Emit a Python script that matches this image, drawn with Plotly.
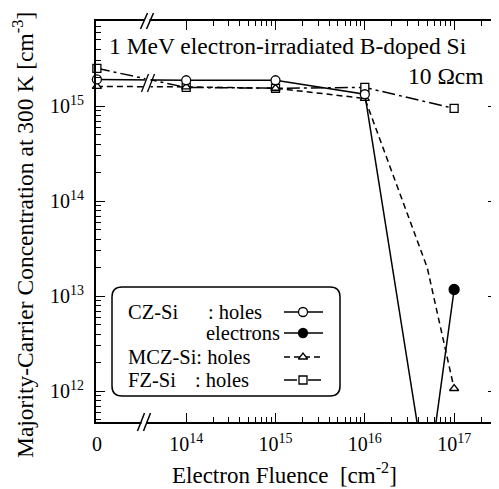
import plotly.graph_objects as go

# ---------------- data ----------------
ZERO_POS = 1e13  # display position used for fluence "0" (left of the axis break)

cz_fluence = [0, 1e14, 1e15, 1e16, 5e16]
cz_holes = [1.92e15, 1.88e15, 1.88e15, 1.34e15, 1.0e11]

cz_e_fluence = [5e16, 1e17]
cz_electrons = [1.0e11, 1.18e13]

mcz_fluence = [0, 1e14, 1e15, 1e16, 5e16, 1e17]
mcz_holes = [1.62e15, 1.60e15, 1.55e15, 1.21e15, 2.0e13, 1.07e12]
mcz_marked = [True, True, True, True, False, True]

fz_fluence = [0, 1e14, 1e15, 1e16, 1e17]
fz_holes = [2.51e15, 1.58e15, 1.55e15, 1.58e15, 9.5e14]

x_tick_vals = [0, 1e14, 1e15, 1e16, 1e17]
x_tick_text = ["0", "10<sup>14</sup>", "10<sup>15</sup>", "10<sup>16</sup>", "10<sup>17</sup>"]
y_tick_vals = [1e12, 1e13, 1e14, 1e15]
y_tick_text = ["10<sup>12</sup>", "10<sup>13</sup>", "10<sup>14</sup>", "10<sup>15</sup>"]

legend_texts = ["CZ-Si", "", "MCZ-Si: holes", "FZ-Si"]
legend_kinds = [": holes", "electrons", "", ": holes"]

X_RANGE = [12.99, 17.48]
Y_RANGE = [11.677, 15.898]

FONT = "Liberation Serif, Times New Roman, serif"

# ---------------- layout geometry ----------------
# The page body has an 8px default margin, so the figure is drawn 8px
# smaller and its margins reduced by 8px to land where the reference is.
OFF = 8
W, H = 499 - OFF, 489 - OFF
REF_L, REF_T, PW, PH = 96, 21, 401, 401
L, T = REF_L - OFF, REF_T - OFF
R = W - L - PW
B = H - T - PH
REF_BOTTOM = REF_T + PH


def px(X):
    return (X - REF_L) / PW


def py(Y):
    return (REF_BOTTOM - Y) / PH


def xpos(f):
    return ZERO_POS if f == 0 else f


ymin, ymax = 10 ** Y_RANGE[0], 10 ** Y_RANGE[1]

fig = go.Figure()


def add_series(fl, vals, dash, symbol, size, fill, marked=None):
    xs = [xpos(f) for f in fl]
    fig.add_trace(go.Scatter(x=xs, y=vals, mode="lines",
                             line=dict(color="black", width=1.5, dash=dash),
                             showlegend=False, hoverinfo="skip"))
    if marked is None:
        marked = [True] * len(fl)
    keep = [m and ymin <= v <= ymax for v, m in zip(vals, marked)]
    mx = [x for x, k in zip(xs, keep) if k]
    my = [v for v, k in zip(vals, keep) if k]
    fig.add_trace(go.Scatter(x=mx, y=my, mode="markers", cliponaxis=False,
                             marker=dict(symbol=symbol, size=size,
                                         color="black" if fill else "white",
                                         line=dict(color="black", width=1.3)),
                             showlegend=False))


DASH_MCZ = "6px,4px"
DASH_FZ = "13px,4px,3px,4px"

add_series(fz_fluence, fz_holes, DASH_FZ, "square", 8, False)
add_series(mcz_fluence, mcz_holes, DASH_MCZ, "triangle-up", 8, False, mcz_marked)
add_series(cz_fluence, cz_holes, "solid", "circle", 9, False)
add_series(cz_e_fluence, cz_electrons, "solid", "circle", 10, True)

# ---------------- legend drawn inside the plot ----------------
row_y = [312, 333, 357, 380]
legend_styles = [("solid", "circle", False), ("solid", "circle", True),
                 (DASH_MCZ, "triangle-up", False), (DASH_FZ, "square", False)]
kind_x = [206, 204, 0, 193]
for i in range(len(row_y)):
    yy = py(row_y[i])
    dash, sym, fill = legend_styles[i]
    fig.add_trace(go.Scatter(x=[px(284), px(323)], y=[yy, yy], mode="lines",
                             xaxis="x2", yaxis="y2",
                             line=dict(color="black", width=1.5, dash=dash),
                             showlegend=False, hoverinfo="skip"))
    fig.add_trace(go.Scatter(x=[px(303)], y=[yy], mode="markers",
                             xaxis="x2", yaxis="y2",
                             marker=dict(symbol=sym, size=9 if sym == "circle" else 8,
                                         color="black" if fill else "white",
                                         line=dict(color="black", width=1.3)),
                             showlegend=False, hoverinfo="skip"))

LEG_SIZE = 20.5
annotations = []
for i, (name, kind) in enumerate(zip(legend_texts, legend_kinds)):
    yy = py(row_y[i])
    if name:
        annotations.append(dict(x=px(126), y=yy, xref="paper", yref="paper",
                                text=name, showarrow=False, xanchor="left",
                                yanchor="middle", font=dict(size=LEG_SIZE)))
    if kind:
        annotations.append(dict(x=px(kind_x[i]), y=yy, xref="paper", yref="paper",
                                text=kind, showarrow=False, xanchor="left",
                                yanchor="middle", font=dict(size=LEG_SIZE)))

BIG = 23.5
annotations += [
    dict(x=px(107), y=py(46), xref="paper", yref="paper",
         text="1 MeV electron-irradiated B-doped Si", showarrow=False,
         xanchor="left", yanchor="middle", font=dict(size=BIG)),
    dict(x=px(486), y=py(76), xref="paper", yref="paper",
         text="10 \u03a9cm", showarrow=False,
         xanchor="right", yanchor="middle", font=dict(size=BIG)),
    dict(x=px(284), y=py(473), xref="paper", yref="paper",
         text="Electron Fluence  [cm<sup>-2</sup>]", showarrow=False,
         xanchor="center", yanchor="middle", font=dict(size=23)),
    dict(x=px(23), y=py(235), xref="paper", yref="paper",
         text="Majority-Carrier Concentration at 300 K [cm<sup>-3</sup>]",
         showarrow=False, textangle=-90,
         xanchor="center", yanchor="middle", font=dict(size=BIG)),
]

# ---------------- shapes: legend box & axis breaks ----------------
shapes = []
x0, x1, y0, y1 = px(112), px(340), py(396), py(287)
r = 10 / PW
path = (f"M {x0 + r},{y0} L {x1 - r},{y0} Q {x1},{y0} {x1},{y0 + r} "
        f"L {x1},{y1 - r} Q {x1},{y1} {x1 - r},{y1} L {x0 + r},{y1} "
        f"Q {x0},{y1} {x0},{y1 - r} L {x0},{y0 + r} Q {x0},{y0} {x0 + r},{y0} Z")
shapes.append(dict(type="path", path=path, xref="paper", yref="paper",
                   line=dict(color="black", width=1.5), fillcolor="rgba(0,0,0,0)"))


def add_break(xc, yc, half_h, gap_h, lw):
    shapes.append(dict(type="rect", xref="paper", yref="paper",
                       x0=px(xc - 2.5), x1=px(xc + 2.5),
                       y0=py(yc + gap_h), y1=py(yc - gap_h),
                       line=dict(width=0), fillcolor="white", layer="above"))
    for dx in (-3, 3):
        shapes.append(dict(type="line", xref="paper", yref="paper",
                           x0=px(xc + dx - 3.5), y0=py(yc + half_h),
                           x1=px(xc + dx + 3.5), y1=py(yc - half_h),
                           line=dict(color="black", width=lw), layer="above"))


add_break(144, REF_BOTTOM, 9, 3, 1.5)
add_break(147, REF_T, 8, 3, 1.5)
add_break(148, 83, 9, 8, 1.3)

# ---------------- minor ticks ----------------
x_minor = [k * 10 ** n for n in range(14, 18) for k in range(2, 10)
           if k * 10 ** n <= 2.5e17]
y_minor = [k * 10 ** n for n in range(11, 16) for k in range(2, 10)
           if ymin <= k * 10 ** n <= ymax]

fig.update_layout(
    width=W, height=H,
    margin=dict(l=L, r=R, t=T, b=B, autoexpand=False),
    paper_bgcolor="white", plot_bgcolor="white",
    font=dict(family=FONT, size=20, color="black"),
    showlegend=False,
    xaxis=dict(type="log", range=X_RANGE,
               tickmode="array", tickvals=[xpos(v) for v in x_tick_vals],
               ticktext=x_tick_text,
               ticks="inside", ticklen=9, tickwidth=1.3, tickcolor="black",
               showline=True, linecolor="black", linewidth=2, mirror="allticks",
               showgrid=False, zeroline=False, ticklabelstandoff=3,
               minor=dict(tickmode="array", tickvals=x_minor, ticks="inside",
                          ticklen=5, tickwidth=1.2, tickcolor="black", showgrid=False)),
    yaxis=dict(type="log", range=Y_RANGE,
               tickmode="array", tickvals=y_tick_vals, ticktext=y_tick_text,
               ticks="inside", ticklen=9, tickwidth=1.3, tickcolor="black",
               showline=True, linecolor="black", linewidth=2, mirror="allticks",
               showgrid=False, zeroline=False, ticklabelstandoff=6,
               minor=dict(tickmode="array", tickvals=y_minor, ticks="inside",
                          ticklen=5, tickwidth=1.2, tickcolor="black", showgrid=False)),
    xaxis2=dict(overlaying="x", range=[0, 1], visible=False, fixedrange=True),
    yaxis2=dict(overlaying="y", range=[0, 1], visible=False, fixedrange=True),
    annotations=annotations,
    shapes=shapes,
)

fig.write_html("out.html")
